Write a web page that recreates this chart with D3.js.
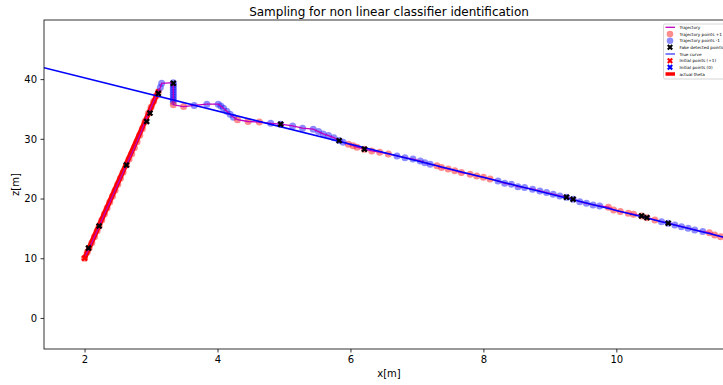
<!DOCTYPE html>
<meta charset="utf-8">
<script src="https://d3js.org/d3.v7.min.js"></script>
<style>
  body { margin: 0; overflow: hidden; background: #fff; }
  text { font-family: "DejaVu Sans", sans-serif; }
</style>
<div id="chart"></div>
<script>

// trajectory samples: x, z and label (+1 red / -1 blue)
var trajX = [2.00, 2.04, 2.07, 2.11, 2.15, 2.19, 2.22, 2.26, 2.30, 2.34, 2.38, 2.42, 2.46, 2.50, 2.54, 2.58, 2.63, 2.67, 2.71, 2.75, 2.79, 2.83, 2.87, 2.91, 2.96, 3.00, 3.04, 3.08, 3.11,
             3.14, 3.16,
             3.335, 3.335, 3.335, 3.335, 3.335, 3.335, 3.335, 3.335, 3.335,
             3.335, 3.49, 3.65, 3.84, 4.01, 4.05, 4.09, 4.14, 4.19, 4.24,
             4.30, 4.46, 4.63, 4.80, 4.95, 5.13, 5.28, 5.44, 5.52, 5.59, 5.67, 5.75, 5.83, 5.89,
             5.97, 6.04, 6.10, 6.21, 6.32, 6.44, 6.57,
             6.70, 6.82, 6.94, 7.05, 7.12, 7.20,
             7.30, 7.37, 7.47, 7.57, 7.67, 7.80, 7.90, 8.00, 8.10,
             8.22, 8.32, 8.42, 8.52, 8.62, 8.74, 8.85, 8.95, 9.05, 9.15, 9.25, 9.35, 9.45, 9.55, 9.65, 9.75,
             9.88, 9.96, 10.06, 10.18, 10.26, 10.38, 10.46, 10.58,
             10.68, 10.78, 10.88, 10.98, 11.08, 11.18, 11.30,
             11.40, 11.48, 11.57, 11.67];
var trajZ = [10.0, 11.0, 11.7, 12.6, 13.6, 14.6, 15.4, 16.4, 17.4, 18.4, 19.4, 20.4, 21.4, 22.4, 23.4, 24.4, 25.6, 26.6, 27.5, 28.5, 29.5, 30.6, 31.7, 32.9, 34.3, 35.3, 36.3, 37.2, 37.9,
             38.6, 39.3,
             39.4, 39.0, 38.6, 38.2, 37.8, 37.4, 37.0, 36.6, 36.2,
             35.7, 35.4, 35.6, 35.8, 35.8, 35.5, 35.1, 34.6, 34.1, 33.6,
             33.2, 32.9, 32.8, 32.6, 32.45, 32.16, 31.78, 31.61, 31.21, 30.82, 30.54, 30.20, 29.70, 29.43,
             29.10, 28.86, 28.59, 28.26, 27.97, 27.76, 27.47,
             27.14, 26.85, 26.6, 26.30, 26.01, 25.75,
             25.51, 25.18, 24.96, 24.67, 24.34, 24.07, 23.79, 23.57, 23.28,
             22.95, 22.56, 22.40, 21.99, 21.83, 21.56, 21.27, 20.99, 20.72, 20.44, 20.22, 19.88, 19.48, 19.21, 18.93, 18.76,
             18.54, 18.09, 17.81, 17.54, 17.37, 17.09, 16.80, 16.42,
             16.13, 15.86, 15.58, 15.29, 15.03, 14.74, 14.46,
             14.29, 13.90, 13.62, 13.35];
var trajLabel = [1, 1, 1, 1, 1, 1, 1, 1, 1, 1, 1, 1, 1, 1, 1, 1, 1, 1, 1, 1, 1, 1, 1, 1, 1, 1, 1, 1, 1,
                 -1, -1,
                 -1, -1, -1, -1, -1, -1, -1, -1, -1,
                 1, 1, -1, -1, -1, -1, -1, -1, -1, -1,
                 1, 1, 1, -1, -1, -1, -1, -1, -1, -1, -1, -1, -1, -1,
                 1, 1, 1, 1, 1, 1, 1,
                 -1, -1, -1, -1, -1, -1,
                 1, 1, 1, 1, 1, 1, 1, 1, 1,
                 -1, -1, -1, -1, -1, -1, -1, -1, -1, -1, -1, -1, -1, -1, -1, -1,
                 1, 1, 1, 1, 1, 1, 1, 1,
                 -1, -1, -1, -1, -1, -1, -1,
                 1, 1, 1, 1];

// fake detected points
var fakeX = [2.06, 2.22, 2.63, 2.935, 2.985, 3.11, 3.335, 4.95, 5.83, 6.21, 9.25, 9.35, 10.38, 10.46, 10.78];
var fakeZ = [11.7, 15.4, 25.6, 32.9, 34.3, 37.6, 39.3, 32.45, 29.70, 28.26, 20.22, 19.88, 17.09, 16.80, 15.86];

// true curve
var trueX = [1.39, 11.77];
var trueZ = [41.9, 13.1];

// initial points (+1)
var initX = [2.0];
var initZ = [10.0];

// actual theta
var thetaX = [2.0, 3.12];
var thetaZ = [10.0, 38.2];

var xTicks = [2, 4, 6, 8, 10];
var yTicks = [0, 10, 20, 30, 40];

var legendLabels = ["Trajectory", "Trajectory points +1", "Trajectory points -1", "Fake detected points",
                    "True curve", "Initial points (+1)", "Initial points (0)", "actual theta"];

var W = 760, H = 385;
var m = {left: 44, right: 734, top: 20, bottom: 349};

var svg = d3.select("#chart").append("svg")
    .attr("width", W)
    .attr("height", H);

var x = d3.scaleLinear().domain([1.39, 11.77]).range([m.left, m.right]);
var y = d3.scaleLinear().domain([-5.2, 49.9]).range([m.bottom, m.top]);

svg.append("clipPath").attr("id", "clip")
    .append("rect")
    .attr("x", m.left).attr("y", m.top)
    .attr("width", m.right - m.left).attr("height", m.bottom - m.top);

var plot = svg.append("g").attr("clip-path", "url(#clip)");

var line = d3.line()
    .x(function(d) { return x(d[0]); })
    .y(function(d) { return y(d[1]); });

// actual theta (thick red)
plot.append("path")
    .datum(d3.zip(thetaX, thetaZ))
    .attr("d", line)
    .attr("fill", "none")
    .attr("stroke", "red")
    .attr("stroke-width", 5);

// trajectory points
var pts = trajX.map(function(v, i) { return {x: v, z: trajZ[i], l: trajLabel[i]}; });
plot.selectAll(".pt")
    .data(pts)
    .enter().append("circle")
    .attr("class", "pt")
    .attr("cx", function(d) { return x(d.x); })
    .attr("cy", function(d) { return y(d.z); })
    .attr("r", 3.5)
    .attr("fill", function(d) { return d.l > 0 ? "red" : "blue"; })
    .attr("fill-opacity", 0.45);

// trajectory line
plot.append("path")
    .datum(d3.zip(trajX, trajZ))
    .attr("d", line)
    .attr("fill", "none")
    .attr("stroke", "#bf00bf")
    .attr("stroke-width", 1.3);

// true curve
plot.append("path")
    .datum(d3.zip(trueX, trueZ))
    .attr("d", line)
    .attr("fill", "none")
    .attr("stroke", "blue")
    .attr("stroke-width", 1.5);

var xMark = d3.symbol().type(d3.symbolCross).size(26);

plot.selectAll(".fake")
    .data(d3.zip(fakeX, fakeZ))
    .enter().append("path")
    .attr("class", "fake")
    .attr("d", xMark)
    .attr("transform", function(d) { return "translate(" + x(d[0]) + "," + y(d[1]) + ") rotate(45)"; })
    .attr("fill", "black");

plot.selectAll(".init")
    .data(d3.zip(initX, initZ))
    .enter().append("path")
    .attr("class", "init")
    .attr("d", xMark)
    .attr("transform", function(d) { return "translate(" + x(d[0]) + "," + y(d[1]) + ") rotate(45)"; })
    .attr("fill", "red");

// axes
var xAxis = svg.append("g")
    .attr("transform", "translate(0," + m.bottom + ")")
    .call(d3.axisBottom(x).tickValues(xTicks).tickSize(3.5).tickPadding(3.5).tickFormat(d3.format("d")));
var yAxis = svg.append("g")
    .attr("transform", "translate(" + m.left + ",0)")
    .call(d3.axisLeft(y).tickValues(yTicks).tickSize(3.5).tickPadding(3.5).tickFormat(d3.format("d")));

[xAxis, yAxis].forEach(function(a) {
    a.select(".domain").remove();
    a.selectAll("text").style("font-size", "10px").attr("fill", "#000");
    a.selectAll(".tick line").attr("stroke", "#000").attr("stroke-width", 0.8);
});

// spines
svg.append("rect")
    .attr("x", m.left).attr("y", m.top)
    .attr("width", m.right - m.left).attr("height", m.bottom - m.top)
    .attr("fill", "none")
    .attr("stroke", "#000")
    .attr("stroke-width", 0.8);

svg.append("text")
    .attr("x", (m.left + m.right) / 2).attr("y", 16)
    .attr("text-anchor", "middle")
    .style("font-size", "12px")
    .text("Sampling for non linear classifier identification");

svg.append("text")
    .attr("x", (m.left + m.right) / 2).attr("y", 377)
    .attr("text-anchor", "middle")
    .style("font-size", "10px")
    .text("x[m]");

svg.append("text")
    .attr("transform", "translate(19," + (m.top + m.bottom) / 2 + ") rotate(-90)")
    .attr("text-anchor", "middle")
    .style("font-size", "10px")
    .text("z[m]");

// legend
var lg = svg.append("g");
lg.append("rect")
    .attr("x", 663.5).attr("y", 24)
    .attr("width", 67).attr("height", 55)
    .attr("rx", 1.5)
    .attr("fill", "#fff")
    .attr("fill-opacity", 0.8)
    .attr("stroke", "#ccc")
    .attr("stroke-width", 0.8);

var rowY = [27.3, 34, 40.7, 47.3, 54, 60.7, 67.3, 74];
var hx = 670, tx = 679.5;

lg.append("line").attr("x1", 665.5).attr("x2", 675).attr("y1", rowY[0]).attr("y2", rowY[0])
    .attr("stroke", "#bf00bf").attr("stroke-width", 1.3);
lg.append("circle").attr("cx", hx).attr("cy", rowY[1]).attr("r", 3.3)
    .attr("fill", "red").attr("fill-opacity", 0.45);
lg.append("circle").attr("cx", hx).attr("cy", rowY[2]).attr("r", 3.3)
    .attr("fill", "blue").attr("fill-opacity", 0.45);
lg.append("path").attr("d", d3.symbol().type(d3.symbolCross).size(22))
    .attr("transform", "translate(" + hx + "," + rowY[3] + ") rotate(45)").attr("fill", "black");
lg.append("line").attr("x1", 665.5).attr("x2", 675).attr("y1", rowY[4]).attr("y2", rowY[4])
    .attr("stroke", "blue").attr("stroke-width", 1);
lg.append("path").attr("d", d3.symbol().type(d3.symbolCross).size(22))
    .attr("transform", "translate(" + hx + "," + rowY[5] + ") rotate(45)").attr("fill", "red");
lg.append("path").attr("d", d3.symbol().type(d3.symbolCross).size(22))
    .attr("transform", "translate(" + hx + "," + rowY[6] + ") rotate(45)").attr("fill", "blue");
lg.append("line").attr("x1", 665.5).attr("x2", 675).attr("y1", rowY[7]).attr("y2", rowY[7])
    .attr("stroke", "red").attr("stroke-width", 3.5);

lg.selectAll(".lt")
    .data(legendLabels)
    .enter().append("text")
    .attr("class", "lt")
    .attr("x", tx)
    .attr("y", function(d, i) { return rowY[i] + 1.5; })
    .style("font-size", "4.2px")
    .text(function(d) { return d; });

</script>
